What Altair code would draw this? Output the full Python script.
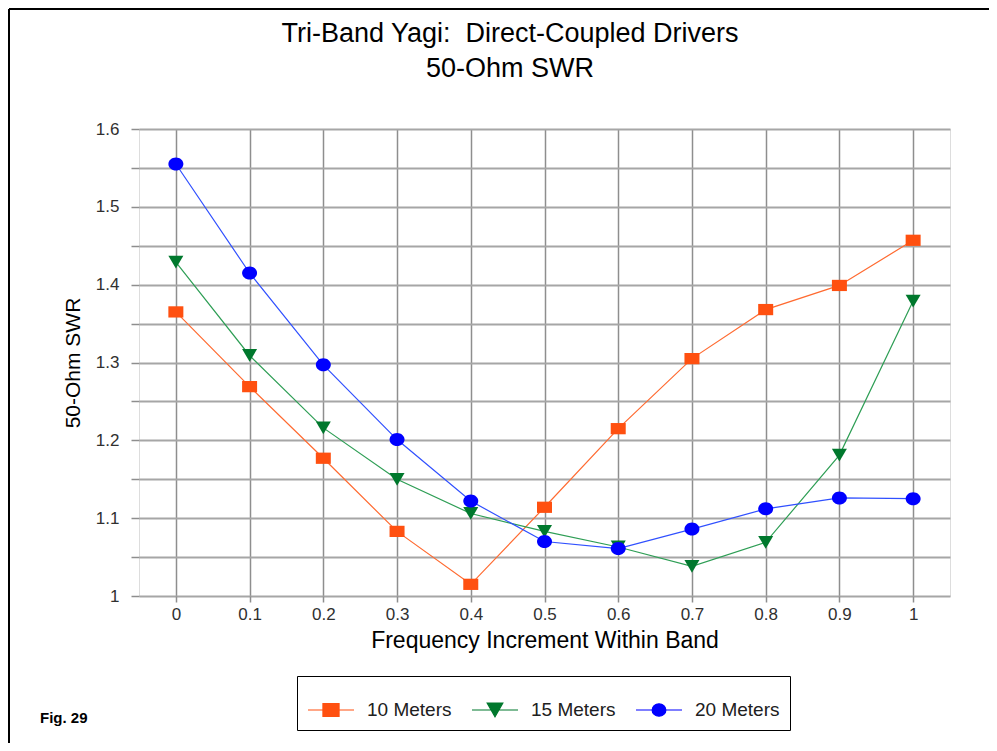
import altair as alt
import pandas as pd

# ---- data ----
freq = [0.0, 0.1, 0.2, 0.3, 0.4, 0.5, 0.6, 0.7, 0.8, 0.9, 1.0]
swr_10m = [1.365, 1.269, 1.177, 1.083, 1.015, 1.114, 1.215, 1.305, 1.368, 1.399, 1.457]
swr_15m = [1.429, 1.309, 1.216, 1.150, 1.106, 1.083, 1.063, 1.038, 1.069, 1.181, 1.379]
swr_20m = [1.555, 1.415, 1.297, 1.201, 1.122, 1.070, 1.061, 1.086, 1.112, 1.126, 1.125]
series_names = ["10 Meters", "15 Meters", "20 Meters"]
x_ticks = [0.0, 0.1, 0.2, 0.3, 0.4, 0.5, 0.6, 0.7, 0.8, 0.9, 1.0]
y_ticks = [1.0, 1.05, 1.1, 1.15, 1.2, 1.25, 1.3, 1.35, 1.4, 1.45, 1.5, 1.55, 1.6]

title_line1 = "Tri-Band Yagi:\u00a0 Direct-Coupled Drivers"
title_line2 = "50-Ohm SWR"
x_title = "Frequency Increment Within Band"
y_title = "50-Ohm SWR"
fig_label = "Fig. 29"

# ---- styles ----
marker_colors = ["#FF5010", "#00782D", "#0000FF"]
line_colors = ["#FF6A30", "#2E9E55", "#3050FF"]
marker_paths = [
    "M-1,-0.75L1,-0.75L1,0.75L-1,0.75Z",
    "M-1,-0.85L1,-0.85L0,0.85Z",
    "M-1,0A1,0.87,0,1,0,1,0A1,0.87,0,1,0,-1,0Z",
]
legend_paths = [
    "M-1,0L1,0M-0.35,-0.28L0.35,-0.28L0.35,0.28L-0.35,0.28Z",
    "M-1,0L1,0M-0.34,-0.3L0.34,-0.3L0,0.3Z",
    "M-1,0L1,0M-0.3,0A0.3,0.27,0,1,0,0.3,0A0.3,0.27,0,1,0,-0.3,0Z",
]

rows = []
for name, vals in zip(series_names, [swr_10m, swr_15m, swr_20m]):
    for f, v in zip(freq, vals):
        rows.append({"Frequency": f, "SWR": v, "Series": name})
df = pd.DataFrame(rows)

FONT = "Liberation Sans"

x_enc = alt.X(
    "Frequency:Q",
    scale=alt.Scale(domain=[-0.05, 1.05], nice=False, zero=False),
    axis=alt.Axis(
        values=x_ticks, title=x_title, labelExpr="format(datum.value, '~g')",
        grid=True, gridColor="#8e8e8e", gridWidth=1.5,
        ticks=True, tickSize=6, tickColor="#8e8e8e", tickWidth=1.5,
        domain=False, labelFontSize=17, labelColor="#303030", labelFont=FONT,
        labelPadding=4, titleFont=FONT, titleFontSize=23, titleFontWeight="normal",
        titleColor="#000000", titlePadding=7, labelFlush=False,
    ),
)
y_enc = alt.Y(
    "SWR:Q",
    scale=alt.Scale(domain=[1.0, 1.6], nice=False, zero=False),
    axis=alt.Axis(
        values=y_ticks, title=y_title,
        labelExpr="round(datum.value*100) % 10 == 0 ? format(datum.value, '~g') : ''",
        grid=True, gridColor="#a6a6a6", gridWidth=2,
        ticks=True, tickSize=8, tickColor="#8e8e8e", tickWidth=1.5,
        domain=False, labelFontSize=17, labelColor="#303030", labelFont=FONT,
        labelPadding=12, titleFont=FONT, titleFontSize=21, titleFontWeight="normal",
        titleColor="#000000", titlePadding=12, labelFlush=False,
    ),
)

base = alt.Chart(df)

lines = base.mark_line(strokeWidth=1.2).encode(
    x=x_enc, y=y_enc,
    stroke=alt.Stroke("Series:N", scale=alt.Scale(domain=series_names, range=line_colors), legend=None),
)

points = base.mark_point(filled=True, opacity=1, size=225, strokeWidth=0).encode(
    x=x_enc, y=y_enc,
    color=alt.Color("Series:N", scale=alt.Scale(domain=series_names, range=marker_colors), legend=None),
    shape=alt.Shape("Series:N", scale=alt.Scale(domain=series_names, range=marker_paths), legend=None),
)


def make_legend():
    return alt.Legend(
        title=None, orient="none", legendX=158, legendY=547,
        direction="horizontal", strokeColor="#000000", fillColor="#ffffff",
        padding=10, labelFontSize=19, labelFont=FONT, labelColor="#202020",
        labelOffset=12, columnPadding=17, symbolSize=2116,
        symbolStrokeWidth=1.2, symbolOpacity=1,
    )


legend_layer = base.transform_filter("false").mark_point(
    filled=True, opacity=1, size=2116, strokeWidth=1.2
).encode(
    x=x_enc, y=y_enc,
    fill=alt.Fill("Series:N", scale=alt.Scale(domain=series_names, range=marker_colors), legend=make_legend()),
    stroke=alt.Stroke("Series:N", scale=alt.Scale(domain=series_names, range=marker_colors), legend=make_legend()),
    shape=alt.Shape("Series:N", scale=alt.Scale(domain=series_names, range=legend_paths), legend=make_legend()),
)

text_df = pd.DataFrame({"t1": [title_line1], "t2": [title_line2], "fig": [fig_label]})
title1 = alt.Chart(text_df).mark_text(
    align="center", baseline="middle", font=FONT, fontSize=27, color="#000000"
).encode(x=alt.value(371), y=alt.value(-95), text="t1:N")
title2 = alt.Chart(text_df).mark_text(
    align="center", baseline="middle", font=FONT, fontSize=27, color="#000000"
).encode(x=alt.value(371), y=alt.value(-60), text="t2:N")
fig_text = alt.Chart(text_df).mark_text(
    align="left", baseline="middle", font=FONT, fontSize=15, fontWeight="bold", color="#000000"
).encode(x=alt.value(-99), y=alt.value(589), text="fig:N")

border_df = pd.DataFrame({"k": [0]})
top_border = alt.Chart(border_df).mark_rule(color="#000000", strokeWidth=2).encode(
    x=alt.value(-130), x2=alt.value(850), y=alt.value(-120)
)
left_border = alt.Chart(border_df).mark_rule(color="#000000", strokeWidth=2).encode(
    x=alt.value(-130), y=alt.value(-120), y2=alt.value(614)
)

chart = alt.layer(
    lines, points, legend_layer, title1, title2, fig_text, top_border, left_border
).resolve_scale(
    color="independent", stroke="independent", shape="independent", fill="independent"
).properties(
    width=811, height=467,
    padding={"left": 131, "top": 121, "right": 39, "bottom": 147},
    autosize=alt.AutoSizeParams(type="none"),
).configure_view(
    stroke="#4a4a4a", strokeWidth=2
).configure(background="#ffffff")

chart.save("out.html", embed_options={"renderer": "svg", "actions": False})
